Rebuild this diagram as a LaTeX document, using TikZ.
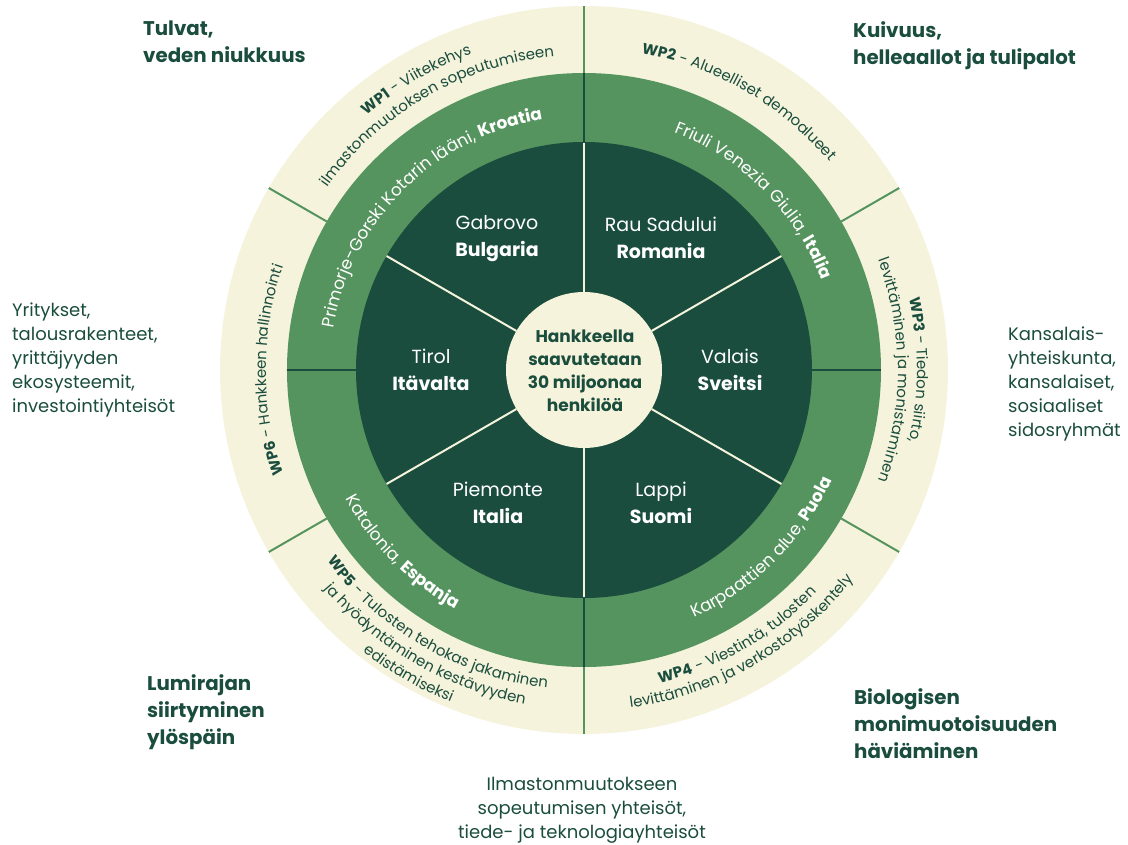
\documentclass[tikz,border=0pt]{standalone}
\usepackage{fontspec}
\setmainfont{Poppins}
\usetikzlibrary{decorations.text}
\definecolor{cream}{RGB}{245,243,220}
\definecolor{leaf}{RGB}{85,148,95}
\definecolor{forest}{RGB}{26,77,61}
\newcommand\wpreg{\fontsize{15}{18}\selectfont}
\newcommand\wpbold{\fontsize{15}{18}\selectfont\bfseries}
\newcommand\regreg{\fontsize{17}{20}\selectfont}
\newcommand\regbold{\fontsize{17}{20}\selectfont\bfseries}
\tikzset{
  hazard/.style={anchor=north west, align=left, inner sep=0pt, text=forest,
    font=\fontsize{19.8}{27}\selectfont\bfseries},
  group/.style={anchor=north west, align=left, inner sep=0pt, text=forest,
    font=\fontsize{18}{24}\selectfont},
  site/.style={align=center, inner sep=0pt, text=white, font=\fontsize{19}{27}\selectfont},
  hub/.style={align=center, inner sep=0pt, text=forest, font=\fontsize{17}{23}\selectfont\bfseries},
  wptext/.style={decorate, decoration={text along path, text align=center, text color=forest, text={#1}}},
  regtext/.style={decorate, decoration={text along path, text align=center, text color=white, text={#1}}},
}
\begin{document}
\begin{tikzpicture}[x=1pt, y=1pt]
  \useasboundingbox (-584,-474) rectangle (544,370);
      \fill[cream] (0,0) circle[radius=364];
      \fill[leaf] (0,0) circle[radius=297];
      \fill[forest] (0,0) circle[radius=228];
      \foreach \a in {30,90,...,330} {
        \draw[leaf, line width=2pt] (\a:297) -- (\a:364);
        \draw[cream, line width=2pt] (\a:78) -- (\a:228);
      }
      \foreach \a in {0,90,180,270}
        \draw[forest, line width=2pt] (\a:227) -- (\a:297);
      \fill[cream] (0,0) circle[radius=78];

      \path[wptext={|\wpbold|WP1|\wpreg| - Viitekehys}] (150:335) arc[start angle=150, end angle=90, radius=335];
      \path[wptext={|\wpreg|ilmastonmuutoksen sopeutumiseen}] (150:315) arc[start angle=150, end angle=90, radius=315];
      \path[wptext={|\wpbold|WP2|\wpreg| - Alueelliset demoalueet}] (90:322) arc[start angle=90, end angle=30, radius=322];
      \path[wptext={|\wpbold|WP3|\wpreg| - Tiedon siirto,}] (30:333) arc[start angle=30, end angle=-30, radius=333];
      \path[wptext={|\wpreg|levittäminen ja monistaminen}] (30:314) arc[start angle=30, end angle=-30, radius=314];
      \path[wptext={|\wpbold|WP4|\wpreg| - Viestintä, tulosten}] (270:322) arc[start angle=270, end angle=330, radius=322];
      \path[wptext={|\wpreg|levittäminen ja verkostotyöskentely}] (270:341) arc[start angle=270, end angle=330, radius=341];
      \path[wptext={|\wpbold|WP5|\wpreg| - Tulosten tehokas jakaminen}] (210:320) arc[start angle=210, end angle=270, radius=320];
      \path[wptext={|\wpreg|ja hyödyntäminen kestävyyden}] (210:339) arc[start angle=210, end angle=270, radius=339];
      \path[wptext={|\wpreg|edistämiseksi}] (210:358) arc[start angle=210, end angle=270, radius=358];
      \path[wptext={|\wpbold|WP6|\wpreg| - Hankkeen hallinnointi}] (210:318) arc[start angle=210, end angle=150, radius=318];

      \path[regtext={|\regreg|Primorje-Gorski Kotarin lääni, |\regbold|Kroatia}] (180:254) arc[start angle=180, end angle=90, radius=254];
      \path[regtext={|\regreg|Friuli Venezia Giulia, |\regbold|Italia}] (90:254) arc[start angle=90, end angle=0, radius=254];
      \path[regtext={|\regreg|Katalonia, |\regbold|Espanja}] (180:271) arc[start angle=180, end angle=270, radius=271];
      \path[regtext={|\regreg|Karpaattien alue, |\regbold|Puola}] (270:271) arc[start angle=270, end angle=360, radius=271];

      \node[site] (gabrovo) at (-87,131) {Gabrovo\\\textbf{Bulgaria}};
      \node[site] (rausadului) at (77,132) {Rau Sadului\\\textbf{Romania}};
      \node[site] (tirol) at (-153,0) {Tirol\\\textbf{Itävalta}};
      \node[site] (valais) at (146,0) {Valais\\\textbf{Sveitsi}};
      \node[site] (piemonte) at (-86,-133) {Piemonte\\\textbf{Italia}};
      \node[site] (lappi) at (77,-133) {Lappi\\\textbf{Suomi}};
      \node[hub] (hanke) at (1,-1) {Hankkeella\\saavutetaan\\30 miljoonaa\\henkilöä};

      \node[hazard] (tulvat) at (-441,349) {Tulvat,\\veden niukkuus};
      \node[hazard] (kuivuus) at (269,349) {Kuivuus,\\helleaallot ja tulipalot};
      \node[hazard] (lumiraja) at (-437,-304) {Lumirajan\\siirtyminen\\ylöspäin};
      \node[hazard] (biologinen) at (270,-318) {Biologisen\\monimuotoisuuden\\häviäminen};
      \node[group] (yritykset) at (-572,67) {Yritykset,\\talousrakenteet,\\yrittäjyyden\\ekosysteemit,\\investointiyhteisöt};
      \node[group] (kansalaiset) at (424,43) {Kansalais-\\yhteiskunta,\\kansalaiset,\\sosiaaliset\\sidosryhmät};
      \node[group, anchor=north, align=center] (yhteisot) at (-2,-407) {Ilmastonmuutokseen\\sopeutumisen yhteisöt,\\tiede- ja teknologiayhteisöt};
\end{tikzpicture}
\end{document}
